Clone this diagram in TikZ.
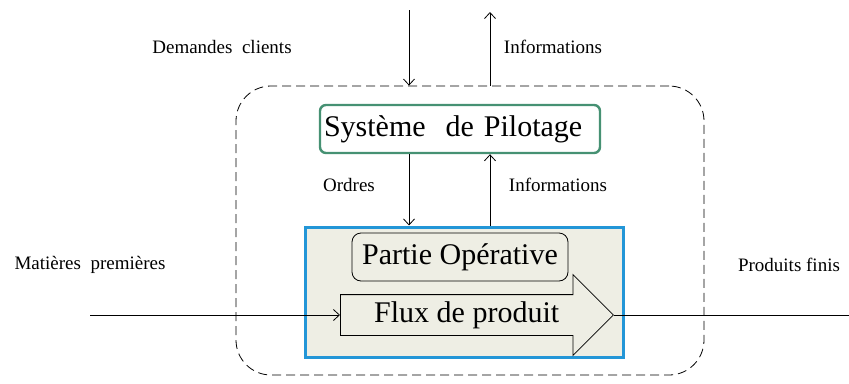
\documentclass[tikz,border=0pt]{standalone}
\usepackage{fontspec}
\setmainfont{Liberation Serif}
\usetikzlibrary{
arrows.meta,
shapes.arrows,
positioning
}
\definecolor{pilotgreen}{RGB}{70,145,115}
\definecolor{opblue}{RGB}{35,150,215}
\definecolor{opfill}{RGB}{238,238,228}

\begin{document}
\begin{tikzpicture}
[x=1pt, y=-1pt,
label_small/.style ={font=\fontsize{19}{22}\selectfont, inner sep=0pt},
label_big/.style ={font=\fontsize{30}{34}\selectfont},
block_system/.style ={rectangle, draw=black, line width=0.8pt, dash pattern=on 9pt off 5pt, rounded corners=35pt, minimum width=468pt, minimum height=289pt},
block_pilot/.style ={rectangle, draw=pilotgreen, line width=2.4pt, rounded corners=6pt, text width=272pt, align=left, inner xsep=4pt, minimum height=48pt, fill=white},
block_op/.style ={rectangle, draw=opblue, line width=3pt, fill=opfill, minimum width=318pt, minimum height=130pt},
block_partie/.style ={rectangle, draw, line width=0.8pt, rounded corners=9pt, minimum width=216pt, minimum height=48pt, fill=opfill},
flux_arrow/.style ={single arrow, draw, line width=0.8pt, fill=opfill, single arrow head extend=20pt, single arrow tip angle=90, shape border rotate=0, inner xsep=20pt, inner ysep=5.5pt, text height=22pt, text depth=7pt, minimum height=273pt},
line_flow/.style ={draw, line width=0.8pt, -{Straight Barb[length=6pt,width=11pt]}}]

\useasboundingbox (0,0) rectangle (849,383);

% Cadre systeme
\node [block_system] (sys) at (470,230.5) {};

% Blocs
\node [block_pilot, label_big] (pilot) at (460,129) {Système\ \ de Pilotage};
\node [block_op] (op) at (464,292) {};
\node [block_partie, label_big] (partie) at (460,257) {Partie Opérative};
\node [flux_arrow, label_big, anchor=tail] (flux) at (340,315) {Flux de produit};

% Extremites libres
\coordinate (dem) at (409,10);
\coordinate (info) at (490,12);
\coordinate (entree) at (90,315);
\coordinate (sortie) at (849,315);

% Textes
\node [label_small] (t_dem) at (222,47) {Demandes\ \ clients};
\node [label_small] (t_info) at (553,47) {Informations};
\node [label_small] (t_ordres) at (349,185) {Ordres};
\node [label_small] (t_info2) at (558,185) {Informations};
\node [label_small] (t_mat) at (90,265) {Matières\ \ premières};
\node [label_small] (t_prod) at (789,265) {Produits finis};

% Fleches
\draw [line_flow] (dem) -- (dem |- sys.north);
\draw [line_flow] (info |- sys.north) -- (info);
\draw [line_flow] (pilot.south -| dem) -- (op.north -| dem);
\draw [line_flow] (op.north -| info) -- (pilot.south -| info);
\draw [line_flow] (entree) -- (flux.tail);
\draw [line width=0.8pt] (flux.tip) -- (sortie);

\end{tikzpicture}
\end{document}
